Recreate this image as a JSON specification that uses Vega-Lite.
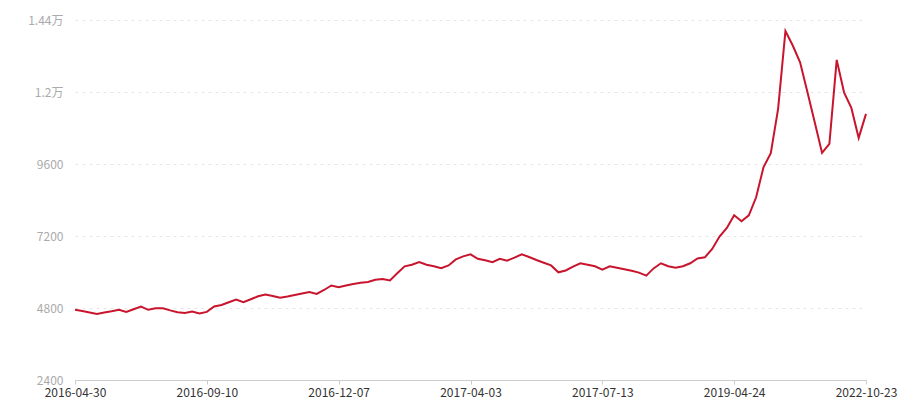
{
  "$schema": "https://vega.github.io/schema/vega-lite/v6.json",
  "width": 791,
  "height": 360,
  "autosize": {"type": "none"},
  "padding": {"left": 75, "top": 20, "right": 34, "bottom": 20},
  "background": "#ffffff",
  "config": {"view": {"stroke": null}, "font": "Noto Sans CJK SC"},
  "data": {"values": [
    {"date": "2016-04-30", "value": 4740},
    {"date": "2016-05-07", "value": 4700},
    {"date": "2016-05-14", "value": 4650},
    {"date": "2016-05-21", "value": 4600},
    {"date": "2016-05-28", "value": 4650},
    {"date": "2016-06-04", "value": 4690},
    {"date": "2016-06-11", "value": 4740},
    {"date": "2016-06-18", "value": 4670},
    {"date": "2016-06-25", "value": 4760},
    {"date": "2016-07-02", "value": 4850},
    {"date": "2016-07-09", "value": 4740},
    {"date": "2016-07-16", "value": 4790},
    {"date": "2016-07-23", "value": 4790},
    {"date": "2016-07-30", "value": 4720},
    {"date": "2016-08-06", "value": 4660},
    {"date": "2016-08-13", "value": 4630},
    {"date": "2016-08-20", "value": 4680},
    {"date": "2016-08-27", "value": 4620},
    {"date": "2016-09-10", "value": 4670},
    {"date": "2016-09-15", "value": 4850},
    {"date": "2016-09-20", "value": 4900},
    {"date": "2016-09-25", "value": 4990},
    {"date": "2016-09-30", "value": 5080},
    {"date": "2016-10-05", "value": 4990},
    {"date": "2016-10-10", "value": 5090},
    {"date": "2016-10-15", "value": 5190},
    {"date": "2016-10-20", "value": 5250},
    {"date": "2016-10-25", "value": 5200},
    {"date": "2016-10-30", "value": 5140},
    {"date": "2016-11-04", "value": 5180},
    {"date": "2016-11-09", "value": 5230},
    {"date": "2016-11-14", "value": 5280},
    {"date": "2016-11-19", "value": 5330},
    {"date": "2016-11-24", "value": 5270},
    {"date": "2016-11-29", "value": 5400},
    {"date": "2016-12-03", "value": 5550},
    {"date": "2016-12-07", "value": 5490},
    {"date": "2016-12-14", "value": 5550},
    {"date": "2016-12-20", "value": 5600},
    {"date": "2016-12-27", "value": 5640},
    {"date": "2017-01-03", "value": 5670},
    {"date": "2017-01-09", "value": 5740},
    {"date": "2017-01-16", "value": 5770},
    {"date": "2017-01-22", "value": 5720},
    {"date": "2017-01-29", "value": 5960},
    {"date": "2017-02-04", "value": 6190},
    {"date": "2017-02-11", "value": 6240},
    {"date": "2017-02-17", "value": 6330},
    {"date": "2017-02-24", "value": 6240},
    {"date": "2017-03-02", "value": 6190},
    {"date": "2017-03-09", "value": 6130},
    {"date": "2017-03-15", "value": 6220},
    {"date": "2017-03-22", "value": 6420},
    {"date": "2017-03-28", "value": 6520},
    {"date": "2017-04-03", "value": 6590},
    {"date": "2017-04-09", "value": 6440},
    {"date": "2017-04-14", "value": 6390},
    {"date": "2017-04-20", "value": 6330},
    {"date": "2017-04-26", "value": 6440},
    {"date": "2017-05-01", "value": 6380},
    {"date": "2017-05-07", "value": 6480},
    {"date": "2017-05-12", "value": 6590},
    {"date": "2017-05-18", "value": 6500},
    {"date": "2017-05-23", "value": 6400},
    {"date": "2017-05-29", "value": 6310},
    {"date": "2017-06-04", "value": 6220},
    {"date": "2017-06-09", "value": 5990},
    {"date": "2017-06-15", "value": 6050},
    {"date": "2017-06-20", "value": 6180},
    {"date": "2017-06-26", "value": 6290},
    {"date": "2017-07-02", "value": 6240},
    {"date": "2017-07-07", "value": 6190},
    {"date": "2017-07-13", "value": 6080},
    {"date": "2017-08-18", "value": 6190},
    {"date": "2017-09-23", "value": 6140},
    {"date": "2017-10-29", "value": 6090},
    {"date": "2017-12-04", "value": 6040},
    {"date": "2018-01-09", "value": 5980},
    {"date": "2018-02-14", "value": 5880},
    {"date": "2018-03-22", "value": 6120},
    {"date": "2018-04-27", "value": 6290},
    {"date": "2018-06-02", "value": 6190},
    {"date": "2018-07-08", "value": 6140},
    {"date": "2018-08-13", "value": 6190},
    {"date": "2018-09-18", "value": 6290},
    {"date": "2018-10-24", "value": 6450},
    {"date": "2018-11-29", "value": 6490},
    {"date": "2019-01-04", "value": 6770},
    {"date": "2019-02-09", "value": 7180},
    {"date": "2019-03-17", "value": 7470},
    {"date": "2019-04-24", "value": 7890},
    {"date": "2019-07-04", "value": 7690},
    {"date": "2019-09-13", "value": 7890},
    {"date": "2019-11-23", "value": 8490},
    {"date": "2020-02-02", "value": 9490},
    {"date": "2020-04-13", "value": 9960},
    {"date": "2020-06-23", "value": 11440},
    {"date": "2020-09-02", "value": 14030},
    {"date": "2020-11-12", "value": 13550},
    {"date": "2021-01-22", "value": 12990},
    {"date": "2021-04-03", "value": 12000},
    {"date": "2021-06-13", "value": 10990},
    {"date": "2021-08-23", "value": 9970},
    {"date": "2021-11-02", "value": 10270},
    {"date": "2022-01-12", "value": 13070},
    {"date": "2022-03-24", "value": 11990},
    {"date": "2022-06-03", "value": 11470},
    {"date": "2022-08-13", "value": 10470},
    {"date": "2022-10-23", "value": 11270}
  ]},
  "mark": {"type": "line", "color": "#c8152d", "strokeWidth": 2, "strokeJoin": "miter", "clip": false},
  "encoding": {
    "x": {
      "field": "date",
      "type": "ordinal",
      "sort": null,
      "scale": {"type": "point", "padding": 0},
      "axis": {
        "title": null,
        "values": ["2016-04-30", "2016-09-10", "2016-12-07", "2017-04-03", "2017-07-13", "2019-04-24", "2022-10-23"],
        "labelAngle": 0,
        "labelColor": "#333333",
        "labelFontSize": 12,
        "labelFont": "Noto Sans CJK SC",
        "labelPadding": 3,
        "labelOverlap": false,
        "domainColor": "#cccccc",
        "domainWidth": 1,
        "tickColor": "#cccccc",
        "tickSize": 4,
        "grid": false
      }
    },
    "y": {
      "field": "value",
      "type": "quantitative",
      "scale": {"domain": [2400, 14400], "nice": false, "zero": false},
      "axis": {
        "title": null,
        "values": [2400, 4800, 7200, 9600, 12000, 14400],
        "labelExpr": "datum.value >= 10000 ? format(datum.value / 10000, '') + '万' : datum.value",
        "labelColor": "#aaaaaa",
        "labelFontSize": 12,
        "labelFont": "Noto Sans CJK SC",
        "labelPadding": 12,
        "domain": false,
        "ticks": false,
        "grid": true,
        "gridColor": "#e6e6e6",
        "gridDash": [3, 4],
        "gridWidth": 1
      }
    }
  }
}
